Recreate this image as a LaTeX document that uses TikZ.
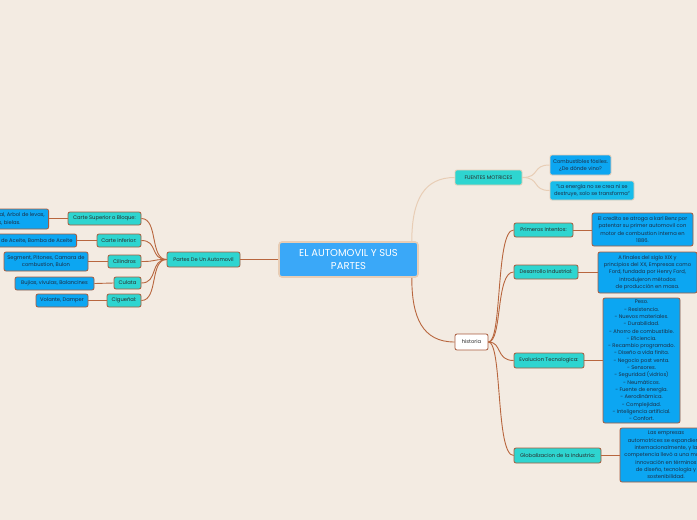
\documentclass[tikz,border=0pt]{standalone}
\usepackage{fontspec}
\setmainfont{Poppins}
\usetikzlibrary{calc}
\definecolor{bg}{HTML}{F3EBE2}
\definecolor{cy}{HTML}{2ED5D0}
\definecolor{bl}{HTML}{0CA6F2}
\definecolor{bl2}{HTML}{17BCEB}
\definecolor{cen}{HTML}{3AA8F8}
\definecolor{brn}{HTML}{A85A3C}
\definecolor{brnl}{HTML}{B8663E}
\definecolor{peach}{HTML}{E8CDB5}
\definecolor{txtd}{HTML}{2A2A2A}
\definecolor{txtb}{HTML}{1C2E45}
\tikzset{
  base/.style={rounded corners=2pt, draw=brn, line width=0.8pt, align=center,
    inner sep=1pt, font=\fontsize{5.2}{7.3}\selectfont},
  cyanbox/.style={base, fill=cy, text=txtd},
  bluebox/.style={base, fill=bl, text=txtb},
  conn/.style={draw=brnl, line width=0.9pt},
  lconn/.style={draw=peach, line width=1pt},
}
\begin{document}
\begin{tikzpicture}[x=1pt,y=-1pt]
\useasboundingbox (0,0) rectangle (697,520);
\fill[bg] (0,0) rectangle (697,520);
\clip (0,0) rectangle (697,520);

% central
\node[rounded corners=3pt, draw=peach, line width=1.6pt, fill=cen, text=white, align=center,
  font=\fontsize{10}{12.5}\selectfont, minimum width=139pt, minimum height=35pt, inner sep=1pt]
  (central) at (348.5,259.5) {EL AUTOMOVIL Y SUS\\PARTES};

% left branch
\node[cyanbox, minimum width=73pt, minimum height=15pt] (partes) at (203.5,259.5) {Partes De Un Automovil};
\node[cyanbox, minimum width=73pt, minimum height=13pt] (csb) at (104.5,218.5) {Carte Superior o Bloque:};
\node[cyanbox, minimum width=44pt, minimum height=13pt] (ci) at (119,240.5) {Carte inferior:};
\node[cyanbox, minimum width=33pt, minimum height=13pt] (cil) at (124.5,261.5) {Cilindros};
\node[cyanbox, minimum width=27pt, minimum height=12pt] (cul) at (127.5,283) {Culata};
\node[cyanbox, minimum width=34pt, minimum height=13pt] (cig) at (124,300.5) {Cigueñal:};

\node[bluebox, anchor=east, minimum height=20pt, inner xsep=4pt] (b1) at (49,219) {Cilindros, Cigueñal, Arbol de levas,\\Pistones, bielas.};
\node[bluebox, anchor=east, minimum height=13pt, inner xsep=4pt] (b2) at (77,240.5) {Carter, Filtro de Aceite, Bomba de Aceite};
\node[bluebox, minimum width=84pt, minimum height=19pt] (b3) at (46,261.5) {Segment, Pitones, Camara de\\combustion, Bulon};
\node[bluebox, minimum width=79pt, minimum height=13pt] (b4) at (54.5,283.5) {Bujias, vivulas, Balancines};
\node[bluebox, minimum width=52pt, minimum height=13pt] (b5) at (62,300.5) {Volante, Damper};

% right: fuentes
\node[cyanbox, draw=peach, minimum width=67pt, minimum height=15pt] (fuentes) at (488.5,177.5) {FUENTES MOTRICES};
\node[bluebox, draw=peach, minimum width=61pt, minimum height=20pt] (f1) at (580.5,165) {Combustibles fósiles.\\¿De dónde vino?};
\node[bluebox, fill=bl2, draw=peach, minimum width=84pt, minimum height=19pt] (f2) at (592,190.5) {"La energía no se crea ni se\\destruye, solo se transforma"};

% right: historia
\node[base, fill=white, text=txtd, minimum width=33pt, minimum height=16pt] (hist) at (471.5,342) {historia};
\node[cyanbox, minimum width=59pt, minimum height=14pt] (prim) at (543.5,230) {Primeros Intentos:};
\node[cyanbox, minimum width=64pt, minimum height=14pt] (desa) at (546,272) {Desarrollo Industrial:};
\node[cyanbox, minimum width=70pt, minimum height=15pt] (evol) at (549,360.5) {Evolucion Tecnologica:};
\node[cyanbox, minimum width=87pt, minimum height=15pt] (glob) at (557.5,455.5) {Globalizacion de la Industria:};

\node[bluebox, minimum width=101pt, minimum height=33pt] (p1) at (642.5,229.5) {El credito se atroga a karl Benz por\\patentar su primer automovil con\\motor de combustion interna en\\1886.};
\node[bluebox, minimum width=99pt, minimum height=41pt] (d1) at (647.5,272.5) {A finales del siglo XIX y\\principios del XX, Empresas como\\Ford, fundada por Henry Ford,\\introdujeron métodos\\de producción en masa.};
\node[bluebox, minimum width=77pt, minimum height=125pt] (e1) at (641.5,360.5) {Peso.\\- Resistencia.\\- Nuevos materiales.\\- Durabilidad.\\- Ahorro de combustible.\\- Eficiencia.\\- Recambio programado.\\- Diseño a vida finita.\\- Negocio post venta.\\- Sensores.\\- Seguridad (vidrios)\\- Neumáticos.\\- Fuente de energía.\\- Aerodinámica.\\- Complejidad.\\- Inteligencia artificial.\\- Confort.};
\node[bluebox, minimum width=92pt, minimum height=54pt] (g1) at (666,455) {Las empresas\\automotrices se expandieron\\internacionalmente, y la\\competencia llevó a una mayor\\innovación en términos\\de diseño, tecnología y\\sostenibilidad.};

% connectors
\draw[conn] (central.west) -- (partes.east);
\foreach \n in {csb,ci,cil,cul,cig}
  \draw[conn] (partes.west) .. controls +(-17,0) and +(17,0) .. (\n.east);
\draw[conn] (csb.west) -- (b1.east |- csb.west);
\draw[conn] (ci.west) -- (b2.east);
\draw[conn] (cil.west) -- (b3.east);
\draw[conn] (cul.west) -- (b4.east);
\draw[conn] (cig.west) -- (b5.east);

\draw[lconn] ($(central.north east)+(-7,0)$) .. controls +(0,-42) and +(-30,0) .. (fuentes.west);
\draw[lconn] (fuentes.east) .. controls +(18,0) and +(-18,0) .. (f1.west);
\draw[lconn] (fuentes.east) .. controls +(18,0) and +(-18,0) .. (f2.west);

\draw[conn] ($(central.south east)+(-7,0)$) .. controls +(0,40) and +(-32,0) .. (hist.west);
\foreach \n in {prim,desa,evol,glob}
  \draw[conn] (hist.east) .. controls +(14,0) and +(-18,0) .. (\n.west);
\draw[conn] (prim.east) -- (p1.west |- prim.east);
\draw[conn] (desa.east) -- (d1.west |- desa.east);
\draw[conn] (evol.east) -- (e1.west |- evol.east);
\draw[conn] (glob.east) -- (g1.west |- glob.east);
\end{tikzpicture}
\end{document}
